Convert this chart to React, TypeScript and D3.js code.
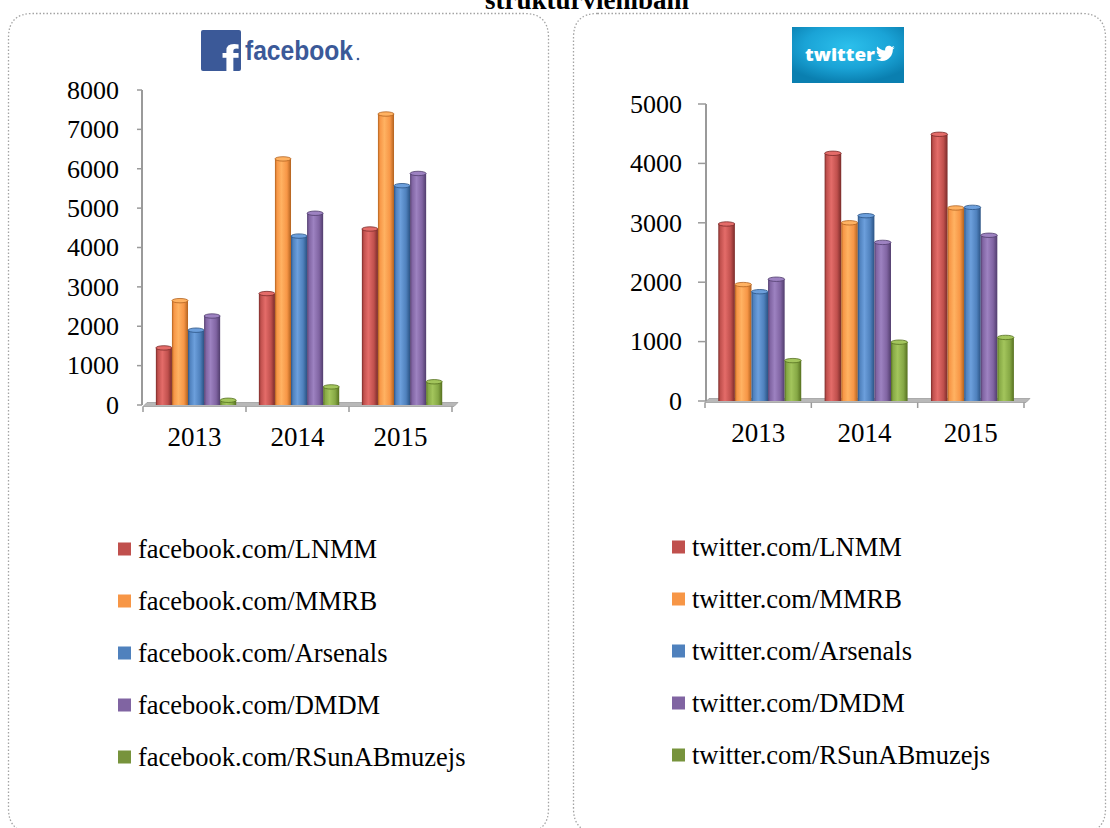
import React from "react";
import * as d3 from "d3";

const years = ["2013", "2014", "2015"];

const fbNames = [
  "facebook.com/LNMM",
  "facebook.com/MMRB",
  "facebook.com/Arsenals",
  "facebook.com/DMDM",
  "facebook.com/RSunABmuzejs",
];
const fbLNMM = [1450, 2830, 4470];
const fbMMRB = [2650, 6250, 7390];
const fbArsenals = [1900, 4290, 5570];
const fbDMDM = [2260, 4870, 5880];
const fbRSunAB = [120, 460, 590];
const fbTicks = [0, 1000, 2000, 3000, 4000, 5000, 6000, 7000, 8000];

const twNames = [
  "twitter.com/LNMM",
  "twitter.com/MMRB",
  "twitter.com/Arsenals",
  "twitter.com/DMDM",
  "twitter.com/RSunABmuzejs",
];
const twLNMM = [2980, 4170, 4490];
const twMMRB = [1960, 3000, 3250];
const twArsenals = [1840, 3120, 3260];
const twDMDM = [2050, 2670, 2790];
const twRSunAB = [680, 990, 1070];
const twTicks = [0, 1000, 2000, 3000, 4000, 5000];

const palette = [
  { base: "#c0504d", light: "#e46c69", dark: "#7a2b29", legend: "#c0504d" },
  { base: "#f79646", light: "#ffb262", dark: "#b2621f", legend: "#f79646" },
  { base: "#4f81bd", light: "#6c9fdc", dark: "#2b5384", legend: "#4f81bd" },
  { base: "#8064a2", light: "#9d82c1", dark: "#513d6d", legend: "#8064a2" },
  { base: "#86a845", light: "#a3c55c", dark: "#56701f", legend: "#77933c" },
];

const serif = "'Liberation Serif', 'Times New Roman', serif";

type ChartProps = {
  id: string;
  names: string[];
  series: number[][];
  ticks: number[];
  yMax: number;
  yRange: [number, number];
  xRange: [number, number];
  axisX: number;
  tickLen: number;
  labelX: number;
  yearY: number;
  legendX: number;
  legendY: number;
  legendStep: number;
  legendTextX: number;
};

function Chart(p: ChartProps) {
  const y = d3.scaleLinear().domain([0, p.yMax]).range(p.yRange);
  const x = d3.scaleBand<string>().domain(years).range(p.xRange).padding(0);
  const W = x.bandwidth();
  const inner = d3
    .scaleBand<number>()
    .domain(p.series.map((_, i) => i))
    .range([0.125 * W, 0.905 * W])
    .padding(0);
  const bw = inner.bandwidth();
  const floorY = p.yRange[0];
  const x0 = p.xRange[0];
  const x1 = p.xRange[1] + 6;
  return (
    <g>
      <defs>
        {palette.map((c, i) => (
          <linearGradient key={i} id={`${p.id}-g${i}`} x1="0" x2="1" y1="0" y2="0">
            <stop offset="0" stopColor={c.dark} />
            <stop offset="0.12" stopColor={c.base} />
            <stop offset="0.4" stopColor={c.light} />
            <stop offset="0.75" stopColor={c.base} />
            <stop offset="1" stopColor={c.dark} />
          </linearGradient>
        ))}
      </defs>
      {/* floor */}
      <polygon
        points={`${x0 + 4},${floorY - 2.5} ${x1},${floorY - 2.5} ${x1 - 4},${floorY + 1.5} ${x0},${floorY + 1.5}`}
        fill="#b8b8b8"
        stroke="#8c8c8c"
        strokeWidth={0.6}
      />
      {/* y axis */}
      <line x1={p.axisX} x2={p.axisX} y1={p.yRange[1]} y2={floorY} stroke="#9a9a9a" strokeWidth={2} />
      {p.ticks.map((t) => (
        <g key={t}>
          <line x1={p.axisX - p.tickLen} x2={p.axisX} y1={y(t)} y2={y(t)} stroke="#9a9a9a" strokeWidth={1.5} />
          <text x={p.labelX} y={y(t)} dy="0.34em" textAnchor="end" fontFamily={serif} fontSize={26} fill="#000">
            {t}
          </text>
        </g>
      ))}
      {/* x ticks */}
      {[...years.map((yr) => x(yr) as number), p.xRange[1]].map((tx, i) => (
        <line key={i} x1={tx} x2={tx} y1={floorY + 1.5} y2={floorY + 7} stroke="#9a9a9a" strokeWidth={1.5} />
      ))}
      {years.map((yr) => (
        <text
          key={yr}
          x={(x(yr) as number) + W / 2}
          y={p.yearY}
          textAnchor="middle"
          fontFamily={serif}
          fontSize={27}
          fill="#000"
        >
          {yr}
        </text>
      ))}
      {/* bars */}
      {p.series.map((vals, si) =>
        vals.map((v, yi) => {
          const bx = (x(years[yi]) as number) + (inner(si) as number);
          const top = y(v);
          const c = palette[si];
          return (
            <g key={`${si}-${yi}`}>
              <rect x={bx} y={top} width={bw} height={floorY - top} fill={`url(#${p.id}-g${si})`} />
              <ellipse cx={bx + bw / 2} cy={top} rx={bw / 2} ry={2.2} fill={c.light} stroke={c.dark} strokeWidth={0.8} />
            </g>
          );
        })
      )}
      {/* legend */}
      {p.names.map((n, i) => {
        const cy = p.legendY + i * p.legendStep;
        return (
          <g key={n}>
            <rect x={p.legendX} y={cy - 6.5} width={13} height={13} fill={palette[i].legend} />
            <text x={p.legendTextX} y={cy} dy="0.34em" fontFamily={serif} fontSize={26.5} fill="#000">
              {n}
            </text>
          </g>
        );
      })}
    </g>
  );
}

function roundedPanel(x: number, y: number, w: number, h: number, r: number) {
  return `M${x + r},${y} H${x + w - r} Q${x + w},${y} ${x + w},${y + r} V${y + h - r} Q${x + w},${y + h} ${x + w - r},${y + h} H${x + r} Q${x},${y + h} ${x},${y + h - r} V${y + r} Q${x},${y} ${x + r},${y} Z`;
}

const birdPath =
  "M23.954 4.569c-.885.389-1.83.654-2.825.775 1.014-.611 1.794-1.574 2.163-2.723-.951.555-2.005.959-3.127 1.184-.896-.959-2.173-1.559-3.591-1.559-2.717 0-4.92 2.203-4.92 4.917 0 .39.045.765.127 1.124C7.691 8.094 4.066 6.13 1.64 3.161c-.427.722-.666 1.561-.666 2.475 0 1.710.87 3.213 2.188 4.096-.807-.026-1.566-.248-2.228-.616v.061c0 2.385 1.693 4.374 3.946 4.827-.413.111-.849.171-1.296.171-.314 0-.615-.03-.916-.086.631 1.953 2.445 3.377 4.604 3.417-1.68 1.319-3.809 2.105-6.102 2.105-.39 0-.779-.023-1.170-.067 2.189 1.394 4.768 2.209 7.557 2.209 9.054 0 13.999-7.496 13.999-13.986 0-.209 0-.42-.015-.63.961-.689 1.8-1.59 2.46-2.548l-.047-.02z";

export default function App() {
  return (
    <svg
      width={1110}
      height={828}
      style={{ position: "absolute", left: 0, top: 0, background: "#fff" }}
    >
      <rect width={1110} height={828} fill="#fff" />
      <text x={587} y={9} textAnchor="middle" fontFamily={serif} fontWeight="bold" fontSize={27} fill="#000">
        struktūrvienībām
      </text>
      <path d={roundedPanel(8.5, 13.5, 540, 819, 24)} fill="none" stroke="#a3a3a3" strokeWidth={1.3} strokeDasharray="1.5 2" />
      <path d={roundedPanel(573.5, 13.5, 532, 819, 24)} fill="none" stroke="#a3a3a3" strokeWidth={1.3} strokeDasharray="1.5 2" />

      {/* facebook logo */}
      <defs>
        <clipPath id="fbclip">
          <rect x={201} y={30} width={40} height={41} rx={2} />
        </clipPath>
        <radialGradient id="twbg" cx="0.5" cy="0.35" r="0.65">
          <stop offset="0" stopColor="#2cc0ec" />
          <stop offset="0.6" stopColor="#1aa3d6" />
          <stop offset="1" stopColor="#0a7fb0" />
        </radialGradient>
      </defs>
      <rect x={201} y={30} width={40} height={41} rx={2} fill="#3b5998" />
      <g clipPath="url(#fbclip)">
        <text x={230} y={80} textAnchor="middle" fontFamily="'Liberation Sans', Arial, sans-serif" fontWeight="bold" fontSize={50} fill="#fff">
          f
        </text>
      </g>
      <text
        x={245}
        y={60}
        fontFamily="'Liberation Sans', Arial, sans-serif"
        fontWeight="bold"
        fontSize={28}
        fill="#3b5998"
        textLength={108}
        lengthAdjust="spacingAndGlyphs"
      >
        facebook
      </text>
      <circle cx={358} cy={59} r={1.3} fill="#3b5998" />

      {/* twitter logo */}
      <rect x={792} y={27} width={112} height={56} fill="url(#twbg)" />
      <text
        x={805}
        y={61}
        fontFamily="'Open Sans', 'DejaVu Sans', sans-serif"
        fontWeight={800}
        fontSize={17}
        fill="#fff"
        textLength={70}
        lengthAdjust="spacingAndGlyphs"
      >
        twitter
      </text>
      <path d={birdPath} transform="translate(876,44) scale(0.78)" fill="#fff" />

      <Chart
        id="fb"
        names={fbNames}
        series={[fbLNMM, fbMMRB, fbArsenals, fbDMDM, fbRSunAB]}
        ticks={fbTicks}
        yMax={8000}
        yRange={[405, 90]}
        xRange={[143, 452]}
        axisX={142}
        tickLen={5}
        labelX={119}
        yearY={446}
        legendX={118}
        legendY={549}
        legendStep={52}
        legendTextX={138}
      />
      <Chart
        id="tw"
        names={twNames}
        series={[twLNMM, twMMRB, twArsenals, twDMDM, twRSunAB]}
        ticks={twTicks}
        yMax={5000}
        yRange={[401, 104]}
        xRange={[705, 1024]}
        axisX={706}
        tickLen={8}
        labelX={682}
        yearY={442}
        legendX={672}
        legendY={547}
        legendStep={52}
        legendTextX={692}
      />
    </svg>
  );
}
